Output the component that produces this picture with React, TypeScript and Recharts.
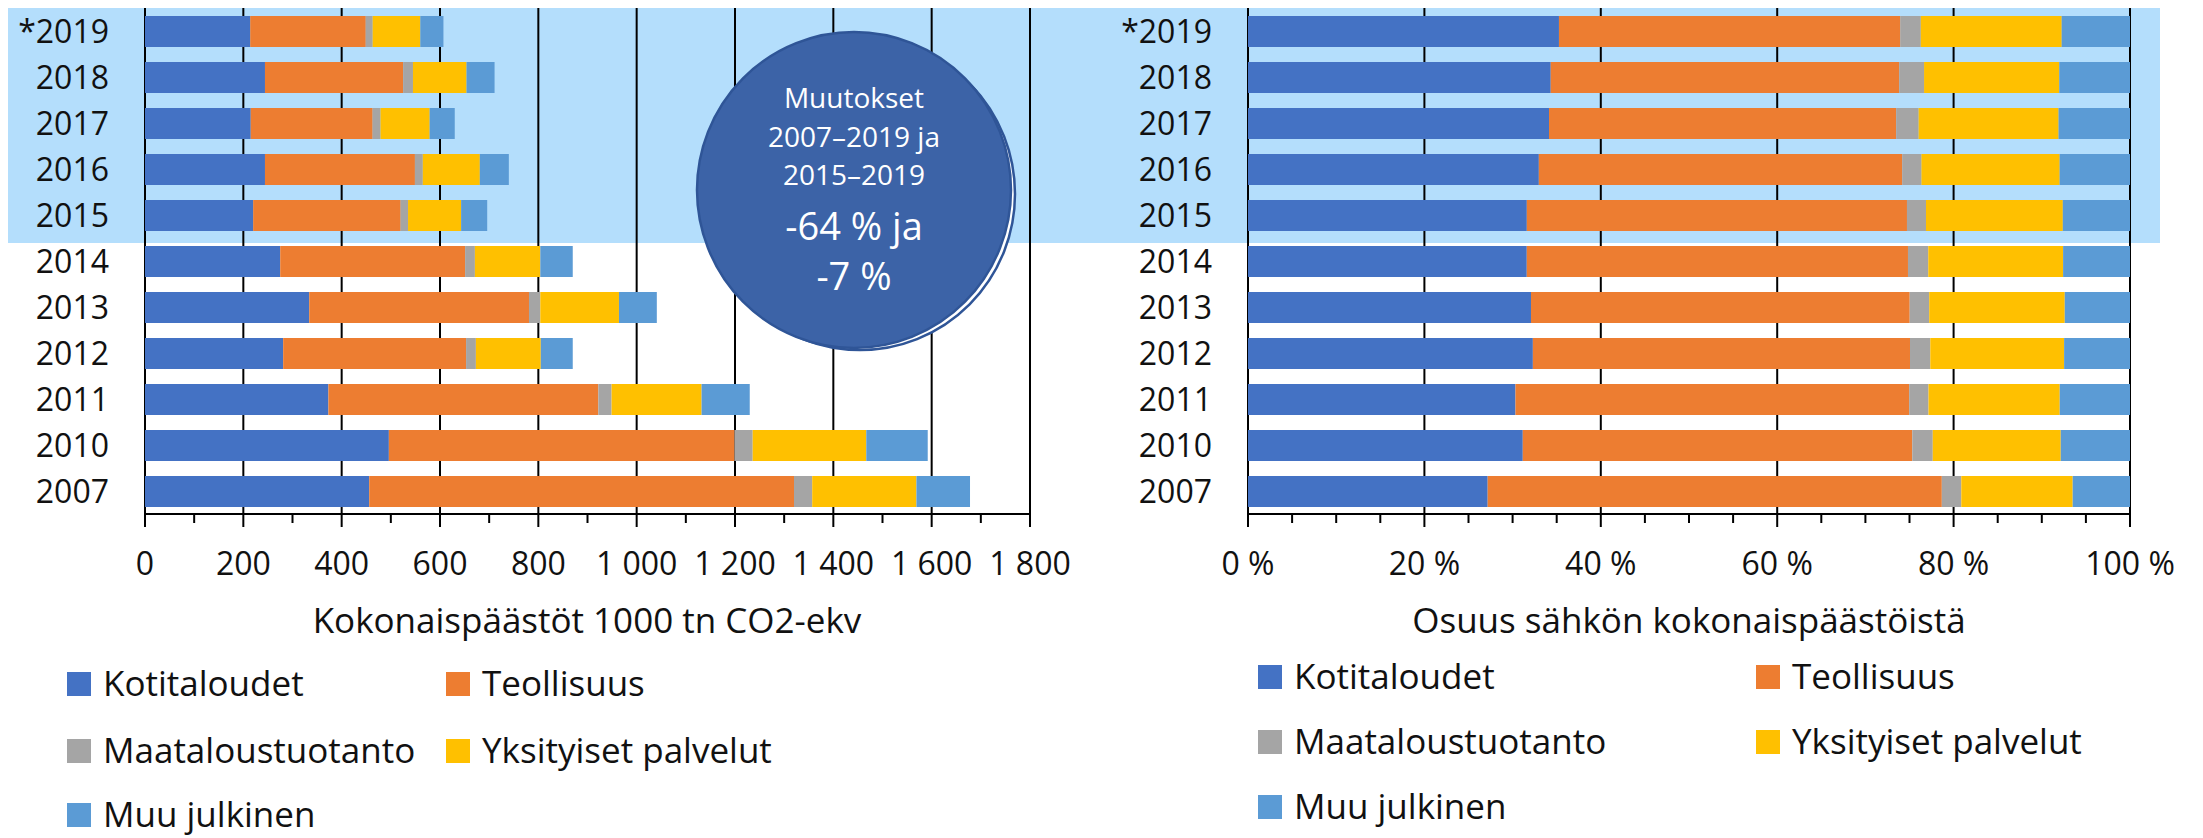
import { BarChart, Bar, XAxis, YAxis, CartesianGrid } from 'recharts';

const years = ['*2019', '2018', '2017', '2016', '2015', '2014', '2013', '2012', '2011', '2010', '2007'];
const kotitaloudet = [214, 244, 215, 244, 220, 275, 334, 281, 373, 496, 456];
const teollisuus = [235, 281, 248, 305, 300, 376, 447, 372, 549, 703, 864];
const maataloustuotanto = [14, 20, 16, 16, 15, 20, 23, 20, 27, 37, 37];
const yksityisetPalvelut = [97, 109, 100, 116, 108, 133, 160, 132, 183, 231, 212];
const muuJulkinen = [47, 57, 51, 59, 53, 66, 77, 65, 98, 125, 109];

const leftTicks = [0, 100, 200, 300, 400, 500, 600, 700, 800, 900, 1000, 1100, 1200, 1300, 1400, 1500, 1600, 1700, 1800];
const leftGrid = [0, 200, 400, 600, 800, 1000, 1200, 1400, 1600, 1800];
const rightTicks = [0, 0.05, 0.1, 0.15, 0.2, 0.25, 0.3, 0.35, 0.4, 0.45, 0.5, 0.55, 0.6, 0.65, 0.7, 0.75, 0.8, 0.85, 0.9, 0.95, 1];
const rightGrid = [0, 0.2, 0.4, 0.6, 0.8, 1];

const series = [
  { key: 'koti', name: 'Kotitaloudet', color: '#4472C4', values: kotitaloudet },
  { key: 'teol', name: 'Teollisuus', color: '#ED7D31', values: teollisuus },
  { key: 'maat', name: 'Maataloustuotanto', color: '#A5A5A5', values: maataloustuotanto },
  { key: 'yks', name: 'Yksityiset palvelut', color: '#FFC000', values: yksityisetPalvelut },
  { key: 'muu', name: 'Muu julkinen', color: '#5B9BD5', values: muuJulkinen },
];

const data = years.map((year, i) => {
  const row: any = { year };
  series.forEach(s => { row[s.key] = s.values[i]; });
  return row;
});

const FONT = '"Open Sans", "Noto Sans", sans-serif';
const TEXT = '#111';

const fmtThousands = (v: number) =>
  v >= 1000 ? `${Math.floor(v / 1000)} ${String(v % 1000).padStart(3, '0')}` : String(v);

const LeftTick = ({ x, y, payload }: any) => {
  const major = payload.value % 200 === 0;
  return (
    <g>
      <line x1={x} x2={x} y1={y} y2={y + (major ? 13 : 9)} stroke="#000" strokeWidth={2} />
      {major && (
        <text x={x} y={y + 61} textAnchor="middle" fontSize={32} fill={TEXT} fontFamily={FONT}>
          {fmtThousands(payload.value)}
        </text>
      )}
    </g>
  );
};

const RightTick = ({ x, y, payload }: any) => {
  const pct = Math.round(payload.value * 100);
  const major = pct % 20 === 0;
  return (
    <g>
      <line x1={x} x2={x} y1={y} y2={y + (major ? 13 : 9)} stroke="#000" strokeWidth={2} />
      {major && (
        <text x={x} y={y + 61} textAnchor="middle" fontSize={32} fill={TEXT} fontFamily={FONT}>
          {`${pct} %`}
        </text>
      )}
    </g>
  );
};

const YearTick = ({ x, y, payload }: any) => (
  <text x={x - 36} y={y} dy={11.5} textAnchor="end" fontSize={32} fill={TEXT} fontFamily={FONT}>
    {payload.value}
  </text>
);

const Chart = ({ width, yWidth, right, expand }: { width: number; yWidth: number; right: number; expand: boolean }) => (
  <BarChart
    width={width}
    height={660}
    data={data}
    layout="vertical"
    stackOffset={expand ? 'expand' : 'none'}
    margin={{ top: 8, right, bottom: 0, left: 0 }}
  >
    <CartesianGrid
      horizontal={false}
      stroke="#000"
      strokeWidth={2}
      verticalValues={expand ? rightGrid : leftGrid}
    />
    <XAxis
      type="number"
      domain={expand ? [0, 1] : [0, 1800]}
      ticks={expand ? rightTicks : leftTicks}
      interval={0}
      height={146}
      tickSize={0}
      tickMargin={0}
      tickLine={false}
      axisLine={{ stroke: '#000', strokeWidth: 2 }}
      tick={expand ? <RightTick /> : <LeftTick />}
      allowDataOverflow
    />
    <YAxis
      type="category"
      dataKey="year"
      width={yWidth}
      interval={0}
      tickSize={0}
      tickMargin={0}
      tickLine={false}
      axisLine={false}
      tick={<YearTick />}
    />
    {series.map(s => (
      <Bar key={s.key} dataKey={s.key} name={s.name} stackId="a" fill={s.color} barSize={31} isAnimationActive={false} />
    ))}
  </BarChart>
);

const Legend = ({ cols, rows, textDx }: { cols: number[]; rows: number[]; textDx: number }) => (
  <g>
    {series.map((s, i) => {
      const x = cols[i % 2];
      const y = rows[Math.floor(i / 2)];
      return (
        <g key={s.key}>
          <rect x={x} y={y} width={24} height={24} fill={s.color} />
          <text x={x + textDx} y={y + 24} fontSize={35} fill={TEXT} fontFamily={FONT}>
            {s.name}
          </text>
        </g>
      );
    })}
  </g>
);

export default function App() {
  return (
    <div style={{ position: 'absolute', left: 0, top: 0, width: 2203, height: 838, background: '#fff', overflow: 'hidden', fontFamily: FONT }}>
      <div style={{ position: 'absolute', left: 8, top: 8, width: 2152, height: 235, background: '#B4DEFC' }} />
      <div style={{ position: 'absolute', left: 0, top: 0 }}>
        <Chart width={1100} yWidth={145} right={70} expand={false} />
      </div>
      <div style={{ position: 'absolute', left: 1100, top: 0 }}>
        <Chart width={1103} yWidth={148} right={73} expand={true} />
      </div>
      <svg width={2203} height={838} style={{ position: 'absolute', left: 0, top: 0, pointerEvents: 'none' }}>
        <ellipse cx={860} cy={194} rx={155} ry={156} fill="#fff" stroke="#2F5597" strokeWidth={2.5} />
        <ellipse cx={854} cy={190} rx={157} ry={158} fill="#3C63A7" stroke="#2F5597" strokeWidth={2.5} />
        <g fill="#fff" fontFamily={FONT} textAnchor="middle">
          <text x={854} y={108} fontSize={28}>Muutokset</text>
          <text x={854} y={147} fontSize={28}>2007–2019 ja</text>
          <text x={854} y={185} fontSize={28}>2015–2019</text>
          <text x={854} y={240} fontSize={38}>-64 % ja</text>
          <text x={854} y={290} fontSize={38}>-7 %</text>
        </g>
        <text x={587} y={633} fontSize={35} textAnchor="middle" fill={TEXT} fontFamily={FONT}>
          Kokonaispäästöt 1000 tn CO2-ekv
        </text>
        <text x={1689} y={633} fontSize={35} textAnchor="middle" fill={TEXT} fontFamily={FONT}>
          Osuus sähkön kokonaispäästöistä
        </text>
        <Legend cols={[67, 446]} rows={[672, 739, 803]} textDx={36} />
        <Legend cols={[1258, 1756]} rows={[665, 730, 795]} textDx={36} />
      </svg>
    </div>
  );
}
